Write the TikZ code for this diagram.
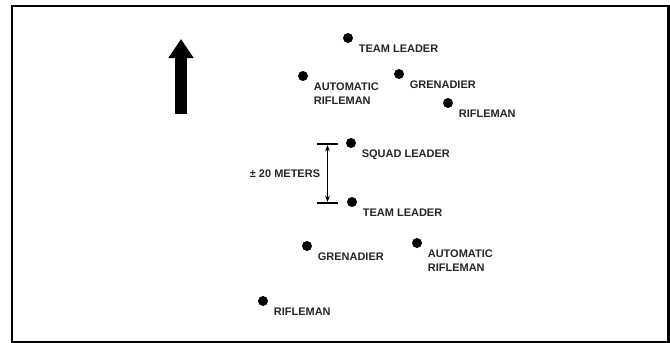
\documentclass[tikz,border=0pt]{standalone}
\usepackage{fontspec}
\setmainfont{Liberation Sans}
\usepackage{tikz}
\usetikzlibrary{arrows.meta,positioning}
\definecolor{inkgray}{RGB}{38,38,38}
\tikzset{
  man/.style={circle,fill=black,inner sep=0pt,minimum size=5pt},
  lbl/.style={inner sep=0pt,align=left,text=inkgray,font=\fontsize{5.5}{7}\selectfont\bfseries},
  bar/.style={line width=1pt},
  fl/.style={{Stealth[length=3pt,width=2.4pt]}-{Stealth[length=3pt,width=2.4pt]},line width=0.55pt},
  dir/.style={line width=6pt,-{Triangle[length=9.5pt,width=12pt]}},
}
\begin{document}
\begin{tikzpicture}[x=0.5pt,y=-0.5pt,node distance=1.3pt and 3.3pt]
  \useasboundingbox (0,0) rectangle (670,343);
  \draw[line width=1.25pt] (12,6) rectangle (668.5,342);

  % direction of movement
  \coordinate (tail) at (181,114);
  \coordinate (head) at (181,39);
  \draw[dir] (tail) -- (head);

  % lead fire team
  \node[man] (tla) at (348,38) {};
  \node[lbl,below right=of tla] (tlal) {TEAM LEADER};
  \node[man] (ara) at (303,76) {};
  \node[lbl,below right=of ara] (aral) {AUTOMATIC\\RIFLEMAN};
  \node[man] (gra) at (399,74) {};
  \node[lbl,below right=of gra] (gral) {GRENADIER};
  \node[man] (rfa) at (448,103) {};
  \node[lbl,below right=of rfa] (rfal) {RIFLEMAN};

  % squad leader
  \node[man] (sl) at (351,143) {};
  \node[lbl,below right=of sl] (sll) {SQUAD LEADER};

  % trail fire team
  \node[man] (tlb) at (352,202) {};
  \node[lbl,below right=of tlb] (tlbl) {TEAM LEADER};
  \node[man] (grb) at (307,246) {};
  \node[lbl,below right=of grb] (grbl) {GRENADIER};
  \node[man] (arb) at (417,243) {};
  \node[lbl,below right=of arb] (arbl) {AUTOMATIC\\RIFLEMAN};
  \node[man] (rfb) at (263,301) {};
  \node[lbl,below right=of rfb] (rfbl) {RIFLEMAN};

  % distance
  \coordinate (dt) at (327.5,144);
  \coordinate (db) at (327.5,203);
  \coordinate (dm) at (327.5,174);
  \draw[bar] ([xshift=-5.25pt]dt) -- ([xshift=5.25pt]dt);
  \draw[bar] ([xshift=-5.25pt]db) -- ([xshift=5.25pt]db);
  \draw[fl] ([yshift=-0.6pt]dt) -- ([yshift=0.6pt]db);
  \node[lbl,left=3.5pt of dm] (dist) {± 20 METERS};
\end{tikzpicture}
\end{document}
